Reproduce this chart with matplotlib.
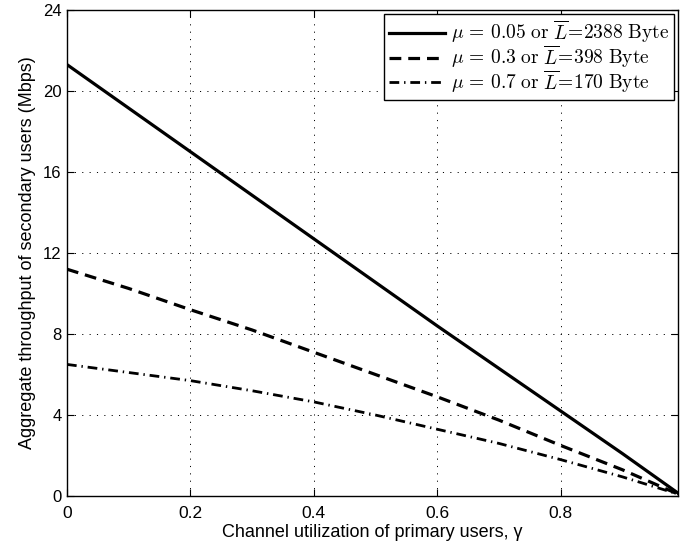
import matplotlib
matplotlib.use("Agg")
import matplotlib.pyplot as plt
import numpy as np

plt.rcParams['mathtext.fontset'] = 'cm'
plt.rcParams['lines.scale_dashes'] = False
plt.rcParams['font.family'] = ['Liberation Sans', 'DejaVu Sans']

gamma = [0.0, 0.1, 0.2, 0.3, 0.4, 0.5, 0.6, 0.7, 0.8, 0.9, 0.99]
thr_mu005 = [21.3, 19.15, 17.0, 14.85, 12.7, 10.55, 8.4, 6.3, 4.2, 2.1, 0.15]
thr_mu03 = [11.2, 10.25, 9.2, 8.2, 7.1, 6.0, 4.9, 3.75, 2.5, 1.3, 0.1]
thr_mu07 = [6.5, 6.1, 5.7, 5.2, 4.65, 4.0, 3.3, 2.6, 1.8, 0.95, 0.1]
labels = [r'$\mu\,=\,0.05\ \mathrm{or}\ \overline{L}\!=\!\mathrm{2388\ Byte}$',
          r'$\mu\,=\,0.3\ \mathrm{or}\ \overline{L}\!=\!\mathrm{398\ Byte}$',
          r'$\mu\,=\,0.7\ \mathrm{or}\ \overline{L}\!=\!\mathrm{170\ Byte}$']
xticks = [0, 0.2, 0.4, 0.6, 0.8]
yticks = [0, 4, 8, 12, 16, 20, 24]

fig = plt.figure(figsize=(6.8, 5.5), dpi=100)
ax = fig.add_axes([0.0985, 0.098, 0.8985, 0.884])

ax.plot(gamma, thr_mu005, color='black', lw=2.3, linestyle='-', label=labels[0])
ax.plot(gamma, thr_mu03, color='black', lw=2.3, linestyle=(0, (8.5, 5)), label=labels[1])
ax.plot(gamma, thr_mu07, color='black', lw=2.0, linestyle=(0, (7, 3.5, 1, 3.5)), label=labels[2])

ax.set_xlim(0, 0.99)
ax.set_ylim(0, 24)
ax.set_xticks(xticks)
ax.set_xticklabels(['0', '0.2', '0.4', '0.6', '0.8'])
ax.set_yticks(yticks)
ax.set_yticklabels([str(v) for v in yticks])
ax.tick_params(direction='in', length=5, width=0.8, top=True, right=True,
               colors='black')
ax.tick_params(axis='x', labelsize=12.5, pad=7)
ax.tick_params(axis='y', labelsize=12, pad=4)
ax.grid(True, color='black', linestyle=(0, (0.8, 4.5)), linewidth=0.7)
for s in ax.spines.values():
    s.set_linewidth(1.0)
    s.set_color('black')

ax.set_xlabel('Channel utilization of primary users, γ', fontsize=13, labelpad=2)
ax.set_ylabel('Aggregate throughput of secondary users (Mbps)', fontsize=13, labelpad=5)

leg = ax.legend(loc='upper right', fontsize=14, frameon=True, fancybox=False,
                edgecolor='black', framealpha=1, handlelength=2.9,
                borderaxespad=0.2, labelspacing=-0.1, handletextpad=0.3, borderpad=0.25)
leg.get_frame().set_linewidth(1.0)

fig.savefig('out.png', dpi=100)
